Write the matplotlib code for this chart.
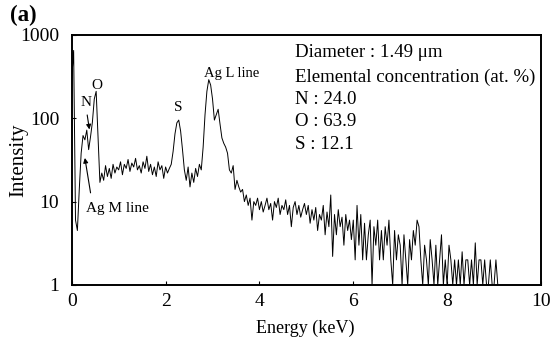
import matplotlib
matplotlib.use('Agg')
import matplotlib.pyplot as plt
import numpy as np

# EDX spectrum in 0.04 keV steps (0.00 ... 9.08 keV)
energy_step = 0.04
counts_0_1 = [300, 650, 6, 4.5, 14, 38, 62, 55, 72, 42, 60, 90, 170, 210, 60, 17,
              22, 18, 27, 20, 25, 19, 28, 22, 26]
counts_1_2 = [24, 30, 21, 28, 25, 32, 23, 29, 26, 33, 24, 27, 22, 30, 25, 35,
              23, 28, 21, 26, 20, 30, 24, 27, 19]
counts_2_3 = [26, 22, 25, 28, 40, 65, 88, 95, 70, 42, 24, 18, 26, 15, 22, 17,
              25, 20, 28, 24, 45, 110, 210, 290, 250]
counts_3_4 = [170, 95, 110, 128, 85, 58, 50, 45, 38, 24, 22, 27, 14, 18, 15, 13,
              14, 10, 12, 9, 11, 6, 10, 9, 11]
counts_4_5 = [8, 10, 7.5, 9, 11, 8, 9.5, 6, 10, 8.5, 11, 7, 9, 8, 10.5, 7,
              9, 5, 8.5, 10, 7, 9, 6.5, 8, 9.5]
counts_5_6 = [7, 9, 5.5, 8, 6, 8.5, 4.5, 7, 6, 9, 4, 7.5, 5, 12, 2.2, 7,
              4, 8, 5, 6.5, 3, 7, 4.5, 6, 3.5]
counts_6_7 = [6, 2, 9, 3, 7, 2, 5.5, 2, 4, 6, 1, 5, 3, 6, 2, 4.5,
              2, 5, 3, 6, 2, 1, 4.5, 2, 4]
counts_7_8 = [3, 1, 4, 2, 1, 3.5, 2, 4.5, 3, 6, 5, 2, 1, 3, 2, 1,
              3.5, 2, 1, 3, 1, 2, 4, 1, 2]
counts_8_9 = [1, 3, 2, 1, 2, 1, 2, 1, 2.5, 1, 2, 2, 1, 2, 1, 3.2,
              1, 2, 2, 1, 2, 1, 1, 2, 1, 1, 2, 1]

counts = (counts_0_1 + counts_1_2 + counts_2_3 + counts_3_4 + counts_4_5
          + counts_5_6 + counts_6_7 + counts_7_8 + counts_8_9)
energy = np.arange(len(counts)) * energy_step

info_lines = ['Diameter : 1.49 \u03bcm', 'Elemental concentration (at. %)',
              'N : 24.0', 'O : 63.9', 'S : 12.1']

plt.rcParams['font.family'] = ['Liberation Serif', 'DejaVu Serif']

fig = plt.figure(figsize=(5.52, 3.45), dpi=100)
ax = fig.add_axes([0.130, 0.174, 0.850, 0.725])

# Spectrum
ax.plot(energy, counts, color='black', lw=0.7)

ax.set_yscale('log')
ax.set_xlim(0, 10)
ax.set_ylim(1, 1000)
ax.set_xticks([0, 2, 4, 6, 8, 10])
ax.set_xticklabels(['0', '2', '4', '6', '8', '10'])
ax.set_yticks([1, 10, 100, 1000])
ax.set_yticklabels(['1', '10', '100', '1000'])
ax.minorticks_off()
ax.tick_params(direction='in', length=3, width=0.8, labelsize=14)
ax.tick_params(axis='x', pad=6)
ax.tick_params(axis='y', pad=9)
for s in ax.spines.values():
    s.set_linewidth(1.4)

ax.set_xlabel('Energy (keV)', fontsize=13)
ax.set_ylabel('Intensity', fontsize=15)
ax.xaxis.set_label_coords(0.497, -0.14)
ax.yaxis.set_label_coords(-0.092, 0.50)

# Peak labels
ax.text(0.30, 155, 'N', fontsize=11, ha='center', va='center')
ax.annotate('', xy=(0.385, 68), xytext=(0.32, 118),
            arrowprops=dict(arrowstyle='-|>', lw=0.8, color='k', mutation_scale=7))
ax.text(0.53, 245, 'O', fontsize=11, ha='center', va='center')
ax.text(2.27, 135, 'S', fontsize=11, ha='center', va='center')
ax.text(3.40, 340, 'Ag L line', fontsize=10.5, ha='center', va='center')
ax.text(0.30, 8.2, 'Ag M line', fontsize=11, ha='left', va='center')
ax.annotate('', xy=(0.27, 36), xytext=(0.41, 11.8),
            arrowprops=dict(arrowstyle='-|>', lw=0.8, color='k', mutation_scale=7))

# Measurement info
for line, yf in zip(info_lines, [0.928, 0.832, 0.740, 0.652, 0.560]):
    ax.text(0.475, yf, line, transform=ax.transAxes, fontsize=13.6,
            ha='left', va='center')

fig.text(0.018, 0.955, '(a)', fontsize=16.5, fontweight='bold', ha='left', va='center')

fig.savefig('out.png', dpi=100)
